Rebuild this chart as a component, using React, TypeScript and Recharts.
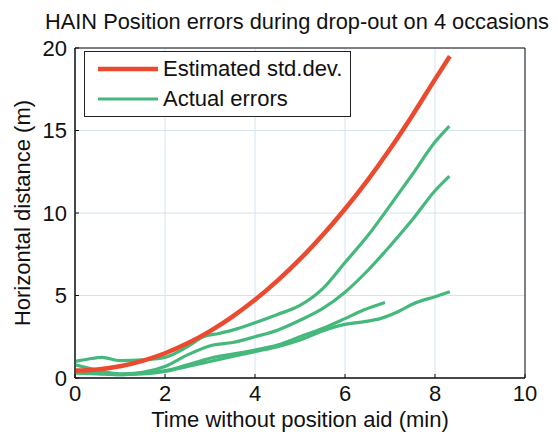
import React from "react";
import {
  LineChart,
  Line,
  XAxis,
  YAxis,
  CartesianGrid,
  ReferenceArea,
} from "recharts";

// ---- data ----
const xTicks = [0, 2, 4, 6, 8, 10];
const yTicks = [0, 5, 10, 15, 20];

const stdTime = [0, 0.5, 1, 1.5, 2, 2.5, 3, 3.5, 4, 4.5, 5, 5.5, 6, 6.5, 7, 7.5, 8, 8.33];
const stdValues = [0.45, 0.52, 0.71, 1.04, 1.5, 2.1, 2.84, 3.72, 4.74, 5.9, 7.2, 8.65, 10.24, 11.98, 13.88, 15.93, 18.1, 19.5];

const errATime = [0, 0.3, 0.6, 1.0, 1.5, 2.0, 2.5, 2.85, 3.2, 3.5, 4, 4.5, 5, 5.5, 6, 6.5, 7, 7.5, 8, 8.32];
const errAValues = [1.0, 1.15, 1.25, 1.05, 1.1, 1.25, 1.9, 2.5, 2.7, 2.9, 3.35, 3.85, 4.4, 5.4, 7.0, 8.6, 10.45, 12.35, 14.3, 15.27];

const errBTime = [0, 0.3, 0.6, 1.0, 1.5, 2.0, 2.5, 3.07, 3.5, 4, 4.5, 5, 5.5, 6, 6.5, 7, 7.5, 8, 8.32];
const errBValues = [0.8, 0.6, 0.4, 0.25, 0.35, 0.7, 1.4, 2.0, 2.15, 2.5, 2.9, 3.5, 4.2, 5.2, 6.5, 8.0, 9.6, 11.35, 12.24];

const errCTime = [0, 0.5, 1, 1.5, 2.1, 2.5, 3, 3.5, 4, 4.5, 5, 5.5, 6, 6.4, 6.89];
const errCValues = [0.3, 0.25, 0.2, 0.3, 0.5, 0.8, 1.2, 1.45, 1.7, 2.0, 2.5, 3.0, 3.6, 4.1, 4.57];

const errDTime = [0, 0.5, 1, 1.5, 2.1, 2.5, 3, 3.5, 4, 4.5, 5, 5.5, 6, 6.4, 6.78, 7.2, 7.52, 8, 8.33];
const errDValues = [0.4, 0.3, 0.2, 0.25, 0.45, 0.7, 1.0, 1.3, 1.6, 1.9, 2.3, 2.85, 3.25, 3.4, 3.6, 4.05, 4.5, 4.93, 5.23];

const toSeries = (ts: number[], vs: number[]) => ts.map((t, i) => ({ t, v: vs[i] }));

const stdData = toSeries(stdTime, stdValues);
const errA = toSeries(errATime, errAValues);
const errB = toSeries(errBTime, errBValues);
const errC = toSeries(errCTime, errCValues);
const errD = toSeries(errDTime, errDValues);

const RED = "#ec4a2e";
const GREEN = "#45b87c";
const FONT = "'Liberation Sans', Arial, sans-serif";

const legendItems = [
  { name: "Estimated std.dev.", color: RED, w: 4.5, y: 17 },
  { name: "Actual errors", color: GREEN, w: 3, y: 47 },
];

const LegendBox = () => (
  <div
    style={{
      position: "absolute",
      left: 84,
      top: 51,
      width: 267,
      height: 66,
      border: "1.5px solid #222",
      background: "#fff",
      fontFamily: FONT,
      fontSize: 22,
      color: "#111",
      boxSizing: "border-box",
    }}
  >
    {legendItems.map((e) => (
      <div key={e.name} style={{ position: "absolute", left: 0, top: e.y - 14, height: 28, display: "flex", alignItems: "center" }}>
        <svg width={78} height={28} style={{ display: "block" }}>
          <line x1={13} x2={73} y1={14} y2={14} stroke={e.color} strokeWidth={e.w} />
        </svg>
        <span style={{ whiteSpace: "nowrap", lineHeight: "28px" }}>{e.name}</span>
      </div>
    ))}
  </div>
);

const YLabel = (props: any) => {
  const vb = props.viewBox || {};
  const cx = 22;
  const cy = (vb.y ?? 48) + (vb.height ?? 330) / 2;
  return (
    <text
      x={cx}
      y={cy}
      transform={`rotate(-90 ${cx} ${cy})`}
      textAnchor="middle"
      dominantBaseline="central"
      fontFamily={FONT}
      fontSize={22}
      fill="#111"
    >
      Horizontal distance (m)
    </text>
  );
};

export default function App() {
  return (
    <div style={{ position: "absolute", left: 0, top: 0, width: 558, height: 435, background: "#fff" }}>
      <LineChart
        width={558}
        height={435}
        margin={{ top: 48, right: 33, bottom: 0, left: 0 }}
        style={{ position: "absolute", left: 0, top: 0 }}
      >
        <CartesianGrid stroke="#d3e4f1" strokeWidth={1} />
        <XAxis
          dataKey="t"
          type="number"
          domain={[0, 10]}
          ticks={xTicks}
          allowDataOverflow
          height={57}
          axisLine={{ stroke: "#111" }}
          tickLine={{ stroke: "#111" }}
          tickSize={-4}
          tickMargin={11}
          tick={{ fontFamily: FONT, fontSize: 22, fill: "#111" }}
          label={{ value: "Time without position aid (min)", position: "insideBottom", offset: 8, fontFamily: FONT, fontSize: 22, fill: "#111" }}
        />
        <YAxis
          dataKey="v"
          type="number"
          domain={[0, 20]}
          ticks={yTicks}
          allowDataOverflow
          width={75}
          axisLine={{ stroke: "#111" }}
          tickLine={{ stroke: "#111" }}
          tickSize={-4}
          tickMargin={12}
          tick={{ fontFamily: FONT, fontSize: 22, fill: "#111" }}
          label={<YLabel />}
        />
        <ReferenceArea x1={0} x2={10} y1={0} y2={20} fill="none" stroke="#111" strokeWidth={1} ifOverflow="visible" />
        <Line data={errA} dataKey="v" name="Actual errors" type="monotone" stroke={GREEN} strokeWidth={3.2} dot={false} isAnimationActive={false} />
        <Line data={errB} dataKey="v" name="Actual errors B" legendType="none" type="monotone" stroke={GREEN} strokeWidth={3.2} dot={false} isAnimationActive={false} />
        <Line data={errC} dataKey="v" name="Actual errors C" legendType="none" type="monotone" stroke={GREEN} strokeWidth={3.2} dot={false} isAnimationActive={false} />
        <Line data={errD} dataKey="v" name="Actual errors D" legendType="none" type="monotone" stroke={GREEN} strokeWidth={3.2} dot={false} isAnimationActive={false} />
        <Line data={stdData} dataKey="v" name="Estimated std.dev." type="monotone" stroke={RED} strokeWidth={4.5} dot={false} isAnimationActive={false} />
      </LineChart>
      <div
        style={{
          position: "absolute",
          left: 0,
          width: 594,
          top: 9,
          textAlign: "center",
          fontFamily: FONT,
          fontSize: 21.8,
          color: "#111",
          whiteSpace: "nowrap",
          lineHeight: "26px",
        }}
      >
        HAIN Position errors during drop-out on 4 occasions
      </div>
      <LegendBox />
    </div>
  );
}
